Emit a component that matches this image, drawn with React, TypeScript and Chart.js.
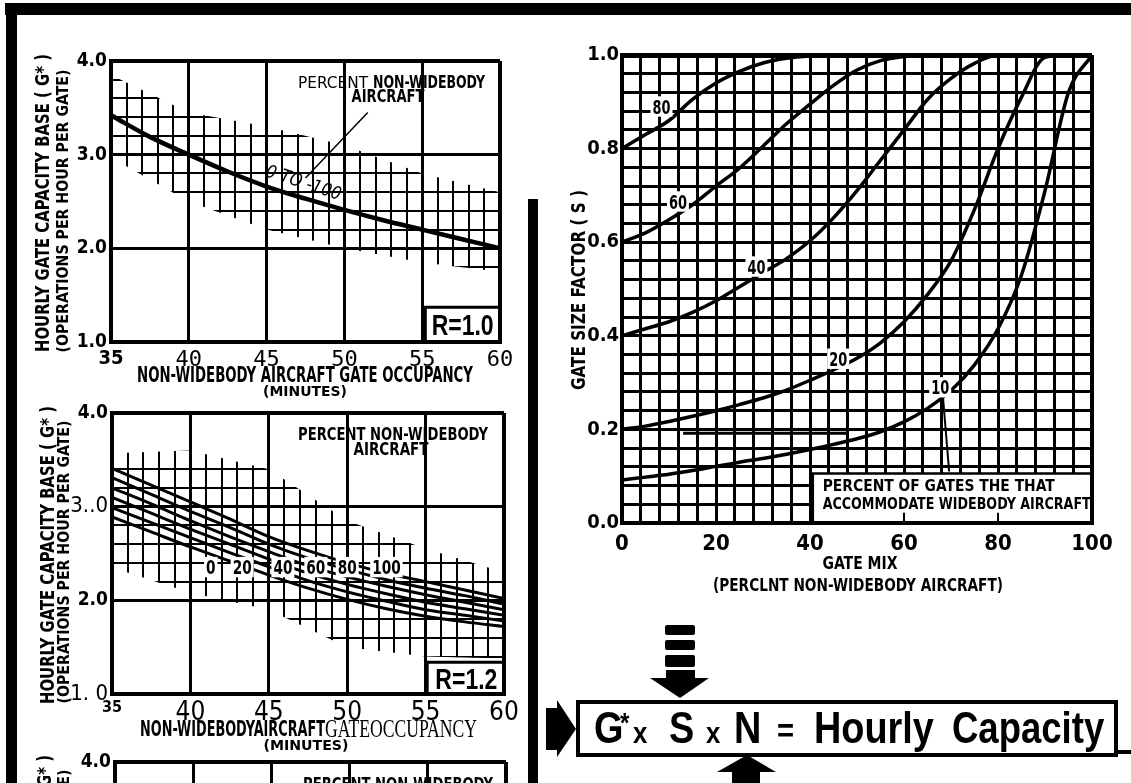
import React, { useEffect, useRef } from 'react';
import { Chart, registerables } from 'chart.js';

Chart.register(...registerables);

// ---------------- DATA ----------------
// Top-left chart (R = 1.0): x = non-widebody gate occupancy (minutes)
const occupancyMinutes = [35, 37.5, 40, 42.5, 45, 47.5, 50, 52.5, 55, 57.5, 60];
const r10Capacity = [3.42, 3.19, 3.0, 2.82, 2.66, 2.53, 2.41, 2.3, 2.2, 2.1, 2.0];

// Middle-left chart (R = 1.2): one curve per percent non-widebody aircraft
const r12Percents = ['0', '20', '40', '60', '80', '100'];
const r12Pct0 = [2.89, 2.73, 2.57, 2.42, 2.27, 2.13, 2.01, 1.91, 1.83, 1.77, 1.72];
const r12Pct20 = [2.99, 2.83, 2.67, 2.51, 2.36, 2.21, 2.09, 1.99, 1.9, 1.84, 1.78];
const r12Pct40 = [3.1, 2.93, 2.76, 2.6, 2.44, 2.29, 2.17, 2.07, 1.98, 1.91, 1.84];
const r12Pct60 = [3.2, 3.03, 2.85, 2.68, 2.52, 2.37, 2.25, 2.15, 2.06, 1.98, 1.9];
const r12Pct80 = [3.31, 3.13, 2.95, 2.78, 2.6, 2.45, 2.33, 2.22, 2.13, 2.05, 1.96];
const r12Pct100 = [3.41, 3.23, 3.05, 2.87, 2.68, 2.53, 2.4, 2.29, 2.2, 2.11, 2.02];
const r12LabelMinutes = [41.3, 43.3, 45.9, 48.0, 50.0, 52.5];
const r12LabelLevel = 2.355;

// Fine cross-hatched bands (minutes / capacity)
const hatchMinutes = [35, 40, 45, 50, 55, 60];
const r10HatchTop = [3.85, 3.45, 3.3, 3.1, 2.8, 2.6];
const r10HatchBottom = [2.97, 2.5, 2.2, 2.0, 1.85, 1.75];
const r12HatchTop = [3.57, 3.6, 3.4, 2.85, 2.55, 2.3];
const r12HatchBottom = [2.35, 2.08, 1.9, 1.5, 1.4, 1.38];

// Tick labels of the left charts
const occTickValues = [35, 40, 45, 50, 55, 60];
const capTickValues = [1, 2, 3, 4];
const r10CapTickText = ['1.0', '2.0', '3.0', '4.0'];
const r12CapTickText = ['1. 0', '2.0', '3..0', '4.0'];

// Right chart: gate size factor S vs gate mix
const gateMix = [0, 5, 10, 15, 20, 25, 30, 35, 40, 45, 50, 55, 60, 65, 70, 75, 80, 85, 90, 95, 100];
const sWide80 = [0.8, 0.83, 0.86, 0.905, 0.94, 0.965, 0.983, 0.993, 0.998, 1, 1, 1, 1, 1, 1, 1, 1, 1, 1, 1, 1];
const sWide60 = [0.6, 0.62, 0.648, 0.68, 0.72, 0.758, 0.805, 0.853, 0.895, 0.935, 0.968, 0.988, 0.997, 1, 1, 1, 1, 1, 1, 1, 1];
const sWide40 = [0.4, 0.415, 0.43, 0.45, 0.475, 0.505, 0.535, 0.565, 0.603, 0.652, 0.71, 0.775, 0.84, 0.905, 0.95, 0.982, 1, 1, 1, 1, 1];
const sWide20 = [0.2, 0.207, 0.217, 0.228, 0.24, 0.253, 0.267, 0.284, 0.305, 0.327, 0.352, 0.385, 0.43, 0.488, 0.56, 0.67, 0.8, 0.91, 0.995, 1, 1];
const sWide10 = [0.092, 0.098, 0.104, 0.112, 0.121, 0.13, 0.138, 0.147, 0.157, 0.168, 0.18, 0.195, 0.216, 0.245, 0.283, 0.338, 0.415, 0.53, 0.71, 0.92, 1];
const sCurveNames = ['80', '60', '40', '20', '10'];
const sLabelMix = [8.4, 11.9, 28.6, 46, 67.7];
const sLabelValue = [0.89, 0.687, 0.548, 0.351, 0.29];

// ---------------- STYLE HELPERS ----------------
const COND = '"Liberation Sans Narrow", "DejaVu Sans Condensed", "Liberation Sans", Arial, sans-serif';
const MONO = '"DejaVu Sans Mono", "Liberation Mono", monospace';
const SERIF = '"Liberation Serif", "DejaVu Serif", serif';
const PAGE_W = 1131;
const PAGE_H = 783;

type TOpt = {
  size: number;
  weight?: string;
  family?: string;
  style?: string;
  w?: number;
  rot?: number;
  align?: 'left' | 'center' | 'right';
  bg?: boolean;
};

// draws text whose cap-height is centred on y, optionally squeezed to width w
function drawText(ctx: CanvasRenderingContext2D, s: string, x: number, y: number, o: TOpt) {
  ctx.save();
  ctx.font = `${o.style || 'normal'} ${o.weight || 'bold'} ${o.size}px ${o.family || COND}`;
  ctx.textBaseline = 'alphabetic';
  ctx.textAlign = 'left';
  const nat = ctx.measureText(s).width;
  const sx = o.w ? o.w / nat : 1;
  const width = nat * sx;
  ctx.translate(x, y);
  if (o.rot) ctx.rotate((o.rot * Math.PI) / 180);
  const x0 = o.align === 'left' ? 0 : o.align === 'right' ? -width : -width / 2;
  const cap = o.size * 0.72;
  if (o.bg) {
    ctx.fillStyle = '#fff';
    ctx.fillRect(x0 - 2, -cap / 2 - 3, width + 4, cap + 6);
  }
  ctx.scale(sx, 1);
  ctx.fillStyle = '#000';
  ctx.fillText(s, x0 / sx, cap / 2);
  ctx.restore();
}

function line(ctx: CanvasRenderingContext2D, pts: number[][], w: number) {
  ctx.save();
  ctx.strokeStyle = '#000';
  ctx.lineWidth = w;
  ctx.beginPath();
  pts.forEach((p, i) => (i ? ctx.lineTo(p[0], p[1]) : ctx.moveTo(p[0], p[1])));
  ctx.stroke();
  ctx.restore();
}

const pts = (xs: number[], ys: number[]) => xs.map((x, i) => ({ x, y: ys[i] }));

function curve(data: number[], xs: number[], width: number) {
  return {
    data: pts(xs, data),
    borderColor: '#000',
    borderWidth: width,
    pointRadius: 0,
    fill: false,
    cubicInterpolationMode: 'monotone',
  };
}

function makeHatch(xs: number[], top: number[], bottom: number[], dx: number, dy: number) {
  return {
    id: 'hatch',
    beforeDatasetsDraw(chart: any) {
      const { ctx, chartArea: ca } = chart;
      const x = chart.scales.x;
      const y = chart.scales.y;
      ctx.save();
      ctx.beginPath();
      xs.forEach((v, i) => {
        const px = x.getPixelForValue(v);
        const py = y.getPixelForValue(top[i]);
        if (i) ctx.lineTo(px, py);
        else ctx.moveTo(px, py);
      });
      for (let i = xs.length - 1; i >= 0; i--) ctx.lineTo(x.getPixelForValue(xs[i]), y.getPixelForValue(bottom[i]));
      ctx.closePath();
      ctx.clip();
      ctx.strokeStyle = '#000';
      ctx.lineWidth = 2;
      for (let v = x.min; v <= x.max + 1e-9; v += dx) {
        const px = Math.round(x.getPixelForValue(v));
        ctx.beginPath();
        ctx.moveTo(px, ca.top);
        ctx.lineTo(px, ca.bottom);
        ctx.stroke();
      }
      for (let v = y.min; v <= y.max + 1e-9; v += dy) {
        const py = Math.round(y.getPixelForValue(v));
        ctx.beginPath();
        ctx.moveTo(ca.left, py);
        ctx.lineTo(ca.right, py);
        ctx.stroke();
      }
      ctx.restore();
    },
  };
}

function makeNotes(id: string, under: ((c: any) => void) | null, over: ((c: any) => void) | null) {
  return {
    id,
    beforeDatasetsDraw(chart: any) {
      if (under) under(chart);
    },
    afterDatasetsDraw(chart: any) {
      if (over) over(chart);
    },
  };
}

type Area = { l: number; t: number; r: number; b: number };
const Y_W = 60;
const X_H = 40;

function padding(a: Area, canvasH: number) {
  return { left: a.l - Y_W, top: a.t, right: PAGE_W - a.r, bottom: canvasH - a.b - X_H };
}

function scale(min: number, max: number, step: number, horiz: boolean, font: any, cb: any, pad: number, edgeW: number, innerW: number) {
  return {
    type: 'linear',
    min,
    max,
    ticks: { stepSize: step, autoSkip: false, maxRotation: 0, minRotation: 0, color: '#000', padding: pad, font, callback: cb },
    grid: {
      color: '#000',
      drawTicks: false,
      lineWidth: (c: any) =>
        c.tick && (Math.abs(c.tick.value - min) < 1e-9 || Math.abs(c.tick.value - max) < 1e-9) ? edgeW : innerW,
    },
    border: { display: true, color: '#000', width: edgeW },
    afterFit: (s: any) => {
      if (horiz) s.height = X_H;
      else s.width = Y_W;
    },
  };
}

function baseOptions(a: Area, canvasH: number, scales: any) {
  return {
    responsive: false,
    animation: false,
    devicePixelRatio: 1,
    events: [],
    layout: { padding: padding(a, canvasH) },
    plugins: { legend: { display: false }, tooltip: { enabled: false }, title: { display: false } },
    scales,
  };
}

const pickText = (values: number[], texts: string[]) => (v: any) => {
  const i = values.findIndex((k) => Math.abs(k - Number(v)) < 1e-9);
  return i >= 0 ? texts[i] : '';
};

// ---------------- CHART CONFIGS ----------------
const A1: Area = { l: 111, t: 61, r: 500, b: 342 };
const A2: Area = { l: 112, t: 413, r: 504, b: 694 };
const A4: Area = { l: 115, t: 762, r: 506, b: 1043 };
const A3: Area = { l: 622, t: 55, r: 1092, b: 523 };

function leftTitles(ctx: CanvasRenderingContext2D, cx1: number, cx2: number, cy1: number, cy2: number, secondLine: string) {
  drawText(ctx, 'HOURLY GATE CAPACITY BASE ( G* )', cx1, cy1, { size: 20, w: 298, rot: -90 });
  drawText(ctx, secondLine, cx2, cy2, { size: 15, w: 283, rot: -90 });
}

function config1() {
  const scales = {
    x: scale(35, 60, 5, true,
      (c: any) => (c.tick && c.tick.value === 35 ? { family: COND, size: 20, weight: 'bold' } : { family: MONO, size: 22, weight: 'normal' }),
      pickText(occTickValues, occTickValues.map(String)), 5, 4, 3),
    y: scale(1, 4, 1, false, { family: COND, size: 19, weight: 'bold' }, pickText(capTickValues, r10CapTickText), 4, 4, 3),
  };
  const over = (chart: any) => {
    const { ctx } = chart;
    const x = chart.scales.x;
    const y = chart.scales.y;
    const X = (v: number) => x.getPixelForValue(v);
    const Y = (v: number) => y.getPixelForValue(v);
    drawText(ctx, 'PERCENT', 298, 82, { size: 16, weight: 'normal', family: '"DejaVu Sans", sans-serif', w: 70, align: 'left' });
    drawText(ctx, 'NON-WIDEBODY', 373, 82, { size: 17, w: 112, align: 'left' });
    drawText(ctx, 'AIRCRAFT', 388, 96, { size: 17, w: 73 });
    line(ctx, [[X(51.5), Y(3.45)], [X(47.5), Y(2.75)]], 1.5);
    drawText(ctx, '0 TO -100', X(47.4), Y(2.71), { size: 18, weight: 'normal', style: 'italic', family: '"DejaVu Sans", sans-serif', w: 78, rot: 18 });
    // R box
    line(ctx, [[X(55.2), Y(1)], [X(55.2), Y(1.37)], [X(60), Y(1.37)]], 3);
    drawText(ctx, 'R=1.0', X(57.6), Y(1.19), { size: 30, w: 62, family: '"Liberation Sans", Arial, sans-serif' });
    // titles
    leftTitles(ctx, 41.5, 62.5, 203, 211, '(OPERATIONS PER HOUR PER GATE)');
    drawText(ctx, 'NON-WIDEBODY AIRCRAFT GATE OCCUPANCY', 305, 374, { size: 21, w: 336 });
    drawText(ctx, '(MINUTES)', 305, 391, { size: 14, w: 84 });
  };
  return {
    type: 'line',
    data: { datasets: [curve(r10Capacity, occupancyMinutes, 4.5)] },
    options: baseOptions(A1, PAGE_H, scales),
    plugins: [makeHatch(hatchMinutes, r10HatchTop, r10HatchBottom, 1, 0.2), makeNotes('notes1', null, over)],
  };
}

function config2() {
  const scales = {
    x: scale(35, 60, 5, true,
      (c: any) => (c.tick && c.tick.value === 35 ? { family: COND, size: 16, weight: 'bold' } : { family: COND, size: 26, weight: 'normal' }),
      pickText(occTickValues, occTickValues.map(String)), 4, 4, 3),
    y: scale(1, 4, 1, false,
      (c: any) => (c.tick && (c.tick.value === 3 || c.tick.value === 1) ? { family: COND, size: 22, weight: 'normal' } : { family: COND, size: 19, weight: 'bold' }),
      pickText(capTickValues, r12CapTickText), 4, 4, 3),
  };
  const over = (chart: any) => {
    const { ctx } = chart;
    const x = chart.scales.x;
    const y = chart.scales.y;
    const X = (v: number) => x.getPixelForValue(v);
    const Y = (v: number) => y.getPixelForValue(v);
    r12Percents.forEach((p, i) => {
      drawText(ctx, p, X(r12LabelMinutes[i]), Y(r12LabelLevel), { size: 20, w: p.length * 9.5, bg: true });
    });
    drawText(ctx, 'PERCENT NON-WIDEBODY', 393, 434, { size: 17, w: 190 });
    drawText(ctx, 'AIRCRAFT', 391, 449, { size: 17, w: 75 });
    line(ctx, [[X(55.1), Y(1)], [X(55.1), Y(1.34)], [X(60), Y(1.34)]], 3);
    drawText(ctx, 'R=1.2', X(57.6), Y(1.17), { size: 30, w: 62, family: '"Liberation Sans", Arial, sans-serif' });
    leftTitles(ctx, 47, 63.5, 555, 562, '(OPERATIONS PER HOUR PER GATE)');
    drawText(ctx, 'NON-WIDEBODYAIRCRAFT', 140, 728, { size: 22, w: 185, align: 'left' });
    drawText(ctx, 'GATEOCCUPANCY', 325, 728, { size: 25, weight: 'normal', family: SERIF, w: 152, align: 'left' });
    drawText(ctx, '(MINUTES)', 306, 745, { size: 14, w: 85 });
  };
  return {
    type: 'line',
    data: {
      datasets: [r12Pct0, r12Pct20, r12Pct40, r12Pct60, r12Pct80, r12Pct100].map((d) => curve(d, occupancyMinutes, 3)),
    },
    options: baseOptions(A2, PAGE_H, scales),
    plugins: [makeHatch(hatchMinutes, r12HatchTop, r12HatchBottom, 1, 0.2), makeNotes('notes2', null, over)],
  };
}

function config4() {
  const scales = {
    x: scale(35, 60, 5, true, { family: COND, size: 22, weight: 'normal' }, pickText(occTickValues, occTickValues.map(String)), 4, 4, 3),
    y: scale(1, 4, 1, false, { family: COND, size: 19, weight: 'bold' }, pickText(capTickValues, r10CapTickText), 4, 4, 3),
  };
  const over = (chart: any) => {
    const { ctx } = chart;
    drawText(ctx, 'PERCENT NON-WIDEBODY', 398, 784, { size: 17, w: 190 });
    leftTitles(ctx, 44, 64, 904, 911, '(OPERATIONS PER HOUR PER GATE)');
  };
  return {
    type: 'line',
    data: { datasets: [] },
    options: baseOptions(A4, 1100, scales),
    plugins: [makeNotes('notes4', null, over)],
  };
}

function config3() {
  const xScale = scale(0, 100, 4, true, { family: COND, size: 22, weight: 'bold' },
    (v: any) => (Math.round(Number(v)) % 20 === 0 ? String(Math.round(Number(v))) : ''), 8, 4, 3);
  const yScale = scale(0, 1, 0.04, false, { family: COND, size: 20, weight: 'bold' },
    (v: any) => {
      const n = Math.round(Number(v) * 100);
      return n % 20 === 0 ? (n / 100).toFixed(1) : '';
    }, 3, 4, 3);
  (yScale.grid as any).lineWidth = (c: any) => (c.tick && Math.abs(c.tick.value - 1) < 1e-9 ? 5 : c.tick && c.tick.value === 0 ? 4 : 3);
  (xScale.ticks as any).maxTicksLimit = 100;
  (yScale.ticks as any).maxTicksLimit = 100;
  const under = (chart: any) => {
    const { ctx } = chart;
    const x = chart.scales.x;
    const y = chart.scales.y;
    const X = (v: number) => x.getPixelForValue(v);
    const Y = (v: number) => y.getPixelForValue(v);
    ctx.save();
    ctx.fillStyle = '#fff';
    ctx.fillRect(X(40.6), Y(0.106), X(100) - X(40.6) - 2, Y(0) - Y(0.106) - 2);
    ctx.restore();
    line(ctx, [[X(40.6), Y(0)], [X(40.6), Y(0.106)], [X(100), Y(0.106)]], 2.5);
    line(ctx, [[X(60), Y(0)], [X(60), Y(0.022)]], 2);
    line(ctx, [[X(80), Y(0)], [X(80), Y(0.022)]], 2);
    drawText(ctx, 'PERCENT OF GATES THE THAT', X(42.7), Y(0.081), { size: 16, w: 232, align: 'left' });
    drawText(ctx, 'ACCOMMODATE WIDEBODY AIRCRAFT', X(42.7), Y(0.042), { size: 16, w: 268, align: 'left' });
    line(ctx, [[X(13), Y(0.192)], [X(48), Y(0.192)]], 3);
    line(ctx, [[X(68.3), Y(0.268)], [X(69.6), Y(0.11)]], 2);
  };
  const over = (chart: any) => {
    const { ctx } = chart;
    const x = chart.scales.x;
    const y = chart.scales.y;
    sCurveNames.forEach((n, i) => {
      drawText(ctx, n, x.getPixelForValue(sLabelMix[i]), y.getPixelForValue(sLabelValue[i]), { size: 20, w: 18, bg: true });
    });
    drawText(ctx, 'GATE SIZE FACTOR ( S )', 578, 290, { size: 20, w: 200, rot: -90 });
    drawText(ctx, 'GATE MIX', 860, 563, { size: 18, w: 75 });
    drawText(ctx, '(PERCLNT NON-WIDEBODY AIRCRAFT)', 858, 585, { size: 17, w: 290 });
  };
  return {
    type: 'line',
    data: {
      datasets: [sWide80, sWide60, sWide40, sWide20, sWide10].map((d) => curve(d, gateMix, 3.5)),
    },
    options: baseOptions(A3, PAGE_H, { x: xScale, y: yScale }),
    plugins: [makeNotes('notes3', under, over)],
  };
}

// ---------------- COMPONENTS ----------------
function ChartCanvas({ make, height }: { make: () => any; height: number }) {
  const ref = useRef<HTMLCanvasElement>(null);
  useEffect(() => {
    const chart = new Chart(ref.current as HTMLCanvasElement, make() as any);
    return () => chart.destroy();
  }, []);
  return (
    <canvas
      ref={ref}
      width={PAGE_W}
      height={height}
      style={{ position: 'absolute', left: 0, top: 0, width: PAGE_W, height }}
    />
  );
}

const bar = (l: number, t: number, w: number, h: number): React.CSSProperties => ({
  position: 'absolute',
  left: l,
  top: t,
  width: w,
  height: h,
  background: '#000',
});

const formulaTokens = [
  { t: 'G', l: 594, size: 44, base: 743, sx: 0.86 },
  { t: '*', l: 620, size: 28, base: 733, sx: 0.86 },
  { t: 'x', l: 633, size: 30, base: 743, sx: 0.86 },
  { t: 'S', l: 669, size: 44, base: 743, sx: 0.86 },
  { t: 'x', l: 706, size: 30, base: 743, sx: 0.86 },
  { t: 'N', l: 734, size: 44, base: 743, sx: 0.86 },
  { t: '=', l: 777, size: 34, base: 742, sx: 0.86 },
  { t: 'Hourly', l: 814, size: 44, base: 743, sx: 0.86 },
  { t: 'Capacity', l: 952, size: 44, base: 743, sx: 0.83 },
];

export default function App() {
  return (
    <div
      style={{
        position: 'fixed',
        left: 0,
        top: 0,
        width: PAGE_W,
        height: PAGE_H,
        overflow: 'hidden',
        background: '#fff',
      }}
    >
      <ChartCanvas make={config1} height={PAGE_H} />
      <ChartCanvas make={config2} height={PAGE_H} />
      <ChartCanvas make={config4} height={1100} />
      <ChartCanvas make={config3} height={PAGE_H} />

      <div style={bar(5, 3, 1126, 12)} />
      <div style={bar(6, 3, 11, 780)} />
      <div style={bar(528, 199, 10, 584)} />

      <div
        style={{
          position: 'absolute',
          left: 576,
          top: 700,
          width: 542,
          height: 57,
          border: '4px solid #000',
          boxSizing: 'border-box',
        }}
      />
      <div style={bar(1118, 750, 13, 4)} />
      {formulaTokens.map((k, i) => (
        <span
          key={i}
          style={{
            position: 'absolute',
            left: k.l,
            top: k.base - 0.8465 * k.size,
            fontFamily: '"Liberation Sans", Arial, sans-serif',
            fontWeight: 'bold',
            fontSize: k.size,
            lineHeight: 1,
            whiteSpace: 'nowrap',
            transform: `scaleX(${k.sx})`,
            transformOrigin: 'left',
            color: '#000',
          }}
        >
          {k.t}
        </span>
      ))}
      <svg
        width={PAGE_W}
        height={PAGE_H}
        style={{ position: 'absolute', left: 0, top: 0, pointerEvents: 'none' }}
      >
        <rect x={665} y={625} width={30} height={10} rx={2} fill="#000" />
        <rect x={665} y={640} width={30} height={10} rx={2} fill="#000" />
        <rect x={665} y={655} width={30} height={12} rx={2} fill="#000" />
        <rect x={666} y={670} width={29} height={9} fill="#000" />
        <polygon points="650,678 709,678 680,698" fill="#000" />
        <polygon points="546,708 557,708 557,700 576,729 557,757 557,750 546,750" fill="#000" />
        <polygon points="717,772 776,772 747,755" fill="#000" />
        <rect x={732} y={771} width={28} height={12} fill="#000" />
      </svg>
    </div>
  );
}
